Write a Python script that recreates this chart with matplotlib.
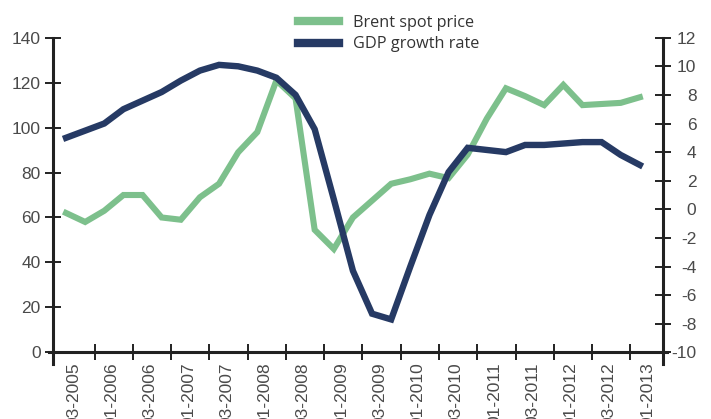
import numpy as np
import matplotlib.pyplot as plt
from matplotlib.lines import Line2D

plt.rcParams["axes.unicode_minus"] = False

# Підписи осі X (кожен охоплює два квартали)
labels = ["03-2005", "01-2006", "03-2006", "01-2007", "03-2007", "01-2008",
          "03-2008", "01-2009", "03-2009", "01-2010", "03-2010", "01-2011",
          "03-2011", "01-2012", "03-2012", "01-2013"]

# Ціна Brent (ліва вісь)
brent = [62, 58, 63, 70, 70, 60, 59, 69, 75, 89, 98, 121, 113, 54.5, 46, 60,
         67.5, 75, 77, 79.5, 77.5, 88, 104, 117.5, 114, 110, 119, 110, 110.5,
         111, 113.5]

# Темп зростання ВВП (права вісь)
gdp = [5.0, 5.5, 6.0, 7.0, 7.6, 8.2, 9.0, 9.7, 10.1, 10.0, 9.7, 9.2, 8.0, 5.6,
       0.7, -4.3, -7.3, -7.7, -4.0, -0.4, 2.6, 4.3, 4.15, 4.0, 4.5, 4.5, 4.6,
       4.7, 4.7, 3.8, 3.1]

green = "#7dc08c"
navy = "#263a64"
tick_col = "#4a4a4a"
axis_col = "#222222"
num_font = ["Liberation Sans", "DejaVu Sans"]

x = np.arange(len(brent))

fig = plt.figure(figsize=(7.11, 4.19), dpi=100)
ax = fig.add_axes([49 / 711, 55 / 419, 618 / 711, 326.3 / 419])
ax2 = ax.twinx()

ax.plot(x, brent, color=green, lw=4.4, solid_joinstyle="miter", zorder=2)
ax2.plot(x, gdp, color=navy, lw=4.6, solid_joinstyle="miter", zorder=3)

# Межі осей
ax.set_xlim(-0.89, 31.42)
ax.set_ylim(-5.2, 140)
ax2.set_ylim(-10 - 5.2 * 22 / 140, 12)

# Осі
for a in (ax, ax2):
    a.spines["top"].set_visible(False)
    for s in a.spines.values():
        s.set_linewidth(2.2)
        s.set_color(axis_col)
ax.spines["right"].set_visible(False)
ax2.spines["left"].set_visible(False)
ax2.spines["bottom"].set_visible(False)
ax.spines["bottom"].set_position(("data", 0))
ax.spines["left"].set_position(("data", -0.66))
ax2.spines["right"].set_position(("data", 31.2))
ax.spines["left"].set_bounds(-5.2, 140)
ax2.spines["right"].set_bounds(-10 - 5.2 * 22 / 140, 12)

ax.set_yticks(np.arange(0, 141, 20))
ax2.set_yticks(np.arange(-10, 13, 2))
ax.tick_params(axis="y", direction="inout", length=11.5, width=1.4,
               color=axis_col, labelcolor=tick_col, labelsize=12.5, pad=3.5)
ax2.tick_params(axis="y", direction="inout", length=11.5, width=1.4,
                color=axis_col, labelcolor=tick_col, labelsize=12.5, pad=18.5)
for t in ax2.get_yticklabels():
    t.set_horizontalalignment("right")

# Риски між підписами та самі підписи
ax.set_xticks(np.arange(1.5, 30, 2))
ax.set_xticklabels([])
ax.tick_params(axis="x", which="major", direction="inout", length=11.5,
               width=1.4, color=axis_col)
lab_pos = np.arange(len(labels)) * 2 + 0.4
ax.set_xticks(lab_pos, minor=True)
ax.set_xticklabels(labels, minor=True, rotation=90, va="top", ha="center")
ax.tick_params(axis="x", which="minor", length=0, pad=7,
               labelcolor=tick_col, labelsize=12.5)

for t in ax.get_yticklabels() + ax2.get_yticklabels() + ax.get_xticklabels(minor=True):
    t.set_fontfamily(num_font)

# Легенда
handles = [Line2D([], [], color=green, lw=6), Line2D([], [], color=navy, lw=6)]
fig.legend(handles, ["Brent spot price", "GDP growth rate"],
           loc="upper left", bbox_to_anchor=(298 / 711, 1 - 15 / 419),
           frameon=False, borderpad=0, borderaxespad=0, handlelength=2.5,
           handletextpad=0.86, labelspacing=0.32,
           prop={"family": "Open Sans", "size": 11.7}, labelcolor="#333333")

fig.savefig("out.png", dpi=100)
